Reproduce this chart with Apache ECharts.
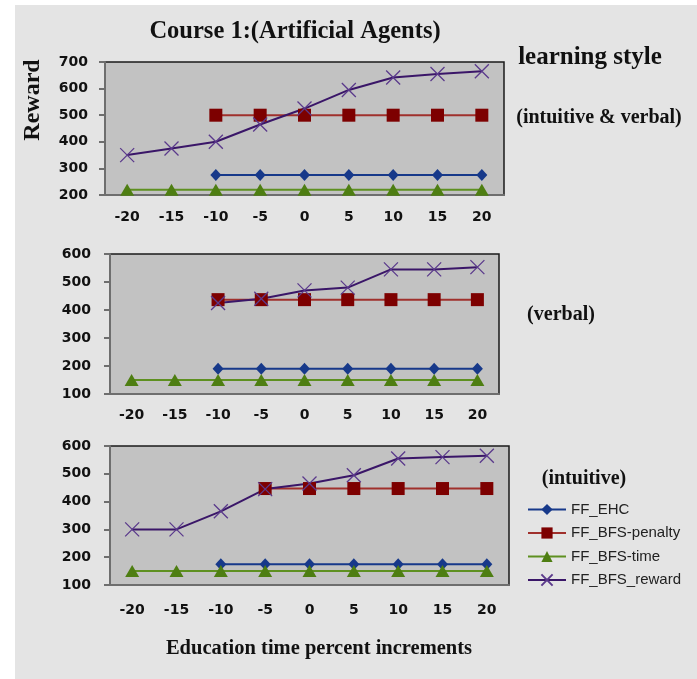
<!DOCTYPE html>
<html>
<head>
<meta charset="utf-8">
<script src="https://cdn.jsdelivr.net/npm/echarts@6/dist/echarts.min.js"></script>
<style>
  html, body { margin: 0; padding: 0; background: #fff; }
  #main { width: 697px; height: 679px; }
</style>
</head>
<body>
<div id="main"></div>
<script>
// x categories (education time % increments)
var categories = ['-20', '-15', '-10', '-5', '0', '5', '10', '15', '20']
var seriesNames = ['FF_EHC', 'FF_BFS-penalty', 'FF_BFS-time', 'FF_BFS_reward']

// panel 1: intuitive & verbal
var p1Ehc = [null, null, 275, 275, 275, 275, 275, 275, 275]
var p1Penalty = [null, null, 500, 500, 500, 500, 500, 500, 500]
var p1Time = [220, 220, 220, 220, 220, 220, 220, 220, 220]
var p1Reward = [350, 375, 400, 465, 525, 595, 642, 655, 665]

// panel 2: verbal
var p2Ehc = [null, null, 190, 190, 190, 190, 190, 190, 190]
var p2Penalty = [null, null, 437, 437, 437, 437, 437, 437, 437]
var p2Time = [150, 150, 150, 150, 150, 150, 150, 150, 150]
var p2Reward = [null, null, 425, 440, 470, 480, 545, 545, 553]

// panel 3: intuitive
var p3Ehc = [null, null, 175, 175, 175, 175, 175, 175, 175]
var p3Penalty = [null, null, null, 447, 447, 447, 447, 447, 447]
var p3Time = [150, 150, 150, 150, 150, 150, 150, 150, 150]
var p3Reward = [300, 300, 365, 445, 465, 495, 555, 560, 565]

var yRanges = [[200, 700], [100, 600], [100, 600]]

var colors = {
  ehc: '#17398a',
  penalty: '#7d0000',
  penaltyLine: '#a0302c',
  time: '#4e7e12',
  timeLine: '#5e9020',
  reward: '#5b3a8c',
  rewardLine: '#3a1668'
}

var tickFont = { fontFamily: 'DejaVu Sans', fontWeight: 'bold', fontSize: 14, color: '#111' }
var serif = 'Liberation Serif'

var grids = [
  { left: 105, top: 62, width: 399, height: 133 },
  { left: 110, top: 254, width: 389, height: 140 },
  { left: 110, top: 446, width: 399, height: 139 }
]
// label gaps per panel (y axis, x axis)
var yMargins = [17, 19, 19]
var xMargins = [15, 14, 18]

function makeSeries(idx, ehc, penalty, time, reward) {
  var base = { type: 'line', xAxisIndex: idx, yAxisIndex: idx, animation: false, connectNulls: false }
  return [
    Object.assign({}, base, {
      name: seriesNames[0], data: ehc, symbol: 'diamond', symbolSize: [11, 12],
      itemStyle: { color: colors.ehc }, lineStyle: { color: colors.ehc, width: 2 }
    }),
    Object.assign({}, base, {
      name: seriesNames[1], data: penalty, symbol: 'rect', symbolSize: 13,
      itemStyle: { color: colors.penalty }, lineStyle: { color: colors.penaltyLine, width: 2 }
    }),
    Object.assign({}, base, {
      name: seriesNames[2], data: time, symbol: 'triangle', symbolSize: [14, 12],
      itemStyle: { color: colors.time }, lineStyle: { color: colors.timeLine, width: 2 }
    }),
    Object.assign({}, base, {
      name: seriesNames[3], data: reward, symbol: 'path://M0,0L10,10M10,0L0,10', symbolSize: 14,
      itemStyle: { color: 'rgba(0,0,0,0)', borderColor: colors.reward, borderWidth: 1.3 },
      lineStyle: { color: colors.rewardLine, width: 2 }
    })
  ]
}

var xAxes = grids.map(function (g, i) {
  return {
    type: 'category', gridIndex: i, data: categories, boundaryGap: true,
    axisLine: { lineStyle: { color: '#6e6e6e', width: 2 } },
    axisTick: { show: false },
    axisLabel: Object.assign({ margin: xMargins[i] }, tickFont),
    splitLine: { show: false }
  }
})

var yAxes = grids.map(function (g, i) {
  return {
    type: 'value', gridIndex: i, min: yRanges[i][0], max: yRanges[i][1], interval: 100,
    axisLine: { show: true, lineStyle: { color: '#6e6e6e', width: 2 } },
    axisTick: { show: true, length: 6, lineStyle: { color: '#6e6e6e', width: 2 } },
    axisLabel: Object.assign({ margin: yMargins[i] }, tickFont),
    splitLine: { show: false }
  }
})

function label(text, x, y, size, align, rotation) {
  return {
    type: 'text', x: x, y: y, rotation: rotation || 0, z: 10,
    style: {
      text: text, font: 'bold ' + size + 'px "' + serif + '"', fill: '#111',
      textAlign: align || 'center', textVerticalAlign: 'middle'
    }
  }
}

var chart = echarts.init(document.getElementById('main'), null, { renderer: 'canvas' })
chart.setOption({
  animation: false,
  backgroundColor: '#fff',
  grid: grids.map(function (g) {
    return Object.assign({ show: true, backgroundColor: '#c2c2c2', borderColor: '#1a1a1a', borderWidth: 1.5 }, g)
  }),
  xAxis: xAxes,
  yAxis: yAxes,
  legend: {
    orient: 'vertical', left: 522, top: 497, itemGap: 8.5, itemWidth: 38, itemHeight: 14,
    data: seriesNames,
    textStyle: { fontFamily: 'Liberation Sans', fontSize: 15, color: '#222' }
  },
  graphic: [
    { type: 'rect', z: -10, silent: true, shape: { x: 15, y: 5, width: 700, height: 700 }, style: { fill: '#e4e4e4' } },
    label('Course 1:(Artificial Agents)', 295, 32, 24.5),
    label('Reward', 33, 100, 24, 'center', Math.PI / 2),
    label('learning style', 590, 58, 25),
    label('(intuitive & verbal)', 599, 118, 20),
    label('(verbal)', 561, 315, 20),
    label('(intuitive)', 584, 479, 20),
    label('Education time percent increments', 319, 649, 20.5)
  ],
  series: [].concat(
    makeSeries(0, p1Ehc, p1Penalty, p1Time, p1Reward),
    makeSeries(1, p2Ehc, p2Penalty, p2Time, p2Reward),
    makeSeries(2, p3Ehc, p3Penalty, p3Time, p3Reward)
  )
})
window.onresize = chart.resize
</script>
</body>
</html>
